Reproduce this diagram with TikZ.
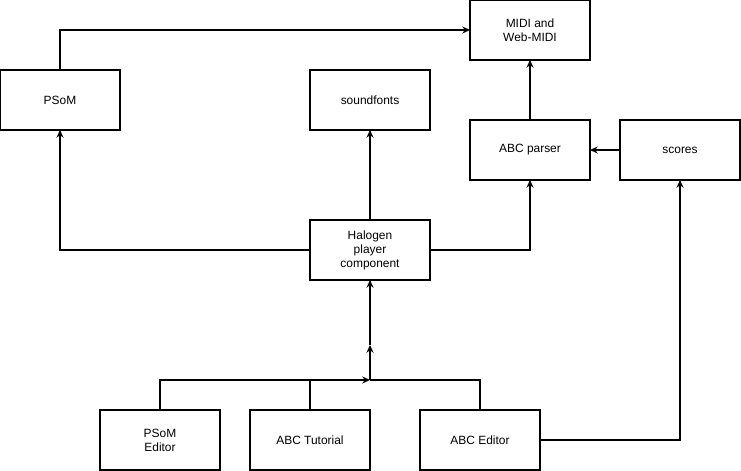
\documentclass[tikz,border=0pt]{standalone}
\usepackage{fontspec}
\setmainfont{Liberation Sans}
\usetikzlibrary{arrows.meta, positioning}
\tikzset{
  box/.style={
    rectangle, draw=black, line width=0.8pt,
    minimum width=3cm, minimum height=1.5cm,
    inner sep=0pt, outer sep=0pt, align=center,
    font=\fontsize{8.5}{10}\selectfont
  },
  arr/.style={-{Stealth[length=5.5pt, width=5pt]}, line width=0.8pt},
  ln/.style={line width=0.8pt},
}
\begin{document}
\begin{tikzpicture}
\useasboundingbox (0,0) rectangle (18.525,-11.775);

% boxes, placed at the grid of the reference
\node[box] at (13.25,-0.75) (midi) {MIDI and\\Web-MIDI};
\node[box] at (1.5,-2.5) (psom) {PSoM};
\node[box] at (9.25,-2.5) (sf) {soundfonts};
\node[box] at (13.25,-3.75) (parser) {ABC parser};
\node[box] at (17,-3.75) (scores) {scores};
\node[box] at (9.25,-6.25) (hal) {Halogen\\player\\component};
\node[box] at (4,-11) (psomed) {PSoM\\Editor};
\node[box] at (7.75,-11) (tut) {ABC Tutorial};
\node[box] at (12,-11) (abced) {ABC Editor};

\coordinate (j) at (9.25,-9.5);
\coordinate (m) at (9.25,-8.625);

% connectors
\draw[arr] (psom.north) |- (midi.west);
\draw[arr] (parser.north) -- (midi.south);
\draw[arr] (scores.west) -- (parser.east);
\draw[arr] (hal.north) -- (sf.south);
\draw[arr] (hal.west) -| (psom.south);
\draw[arr] (hal.east) -| (parser.south);
\draw[arr] (abced.east) -| (scores.south);

\draw[ln] (tut.north) -- (tut.north |- j);
\draw[ln] (abced.north) |- (j);
\draw[arr] (psomed.north) |- (j);
\draw[arr] (j) -- (m);
\draw[arr] (m) -- (hal.south);

\end{tikzpicture}
\end{document}
